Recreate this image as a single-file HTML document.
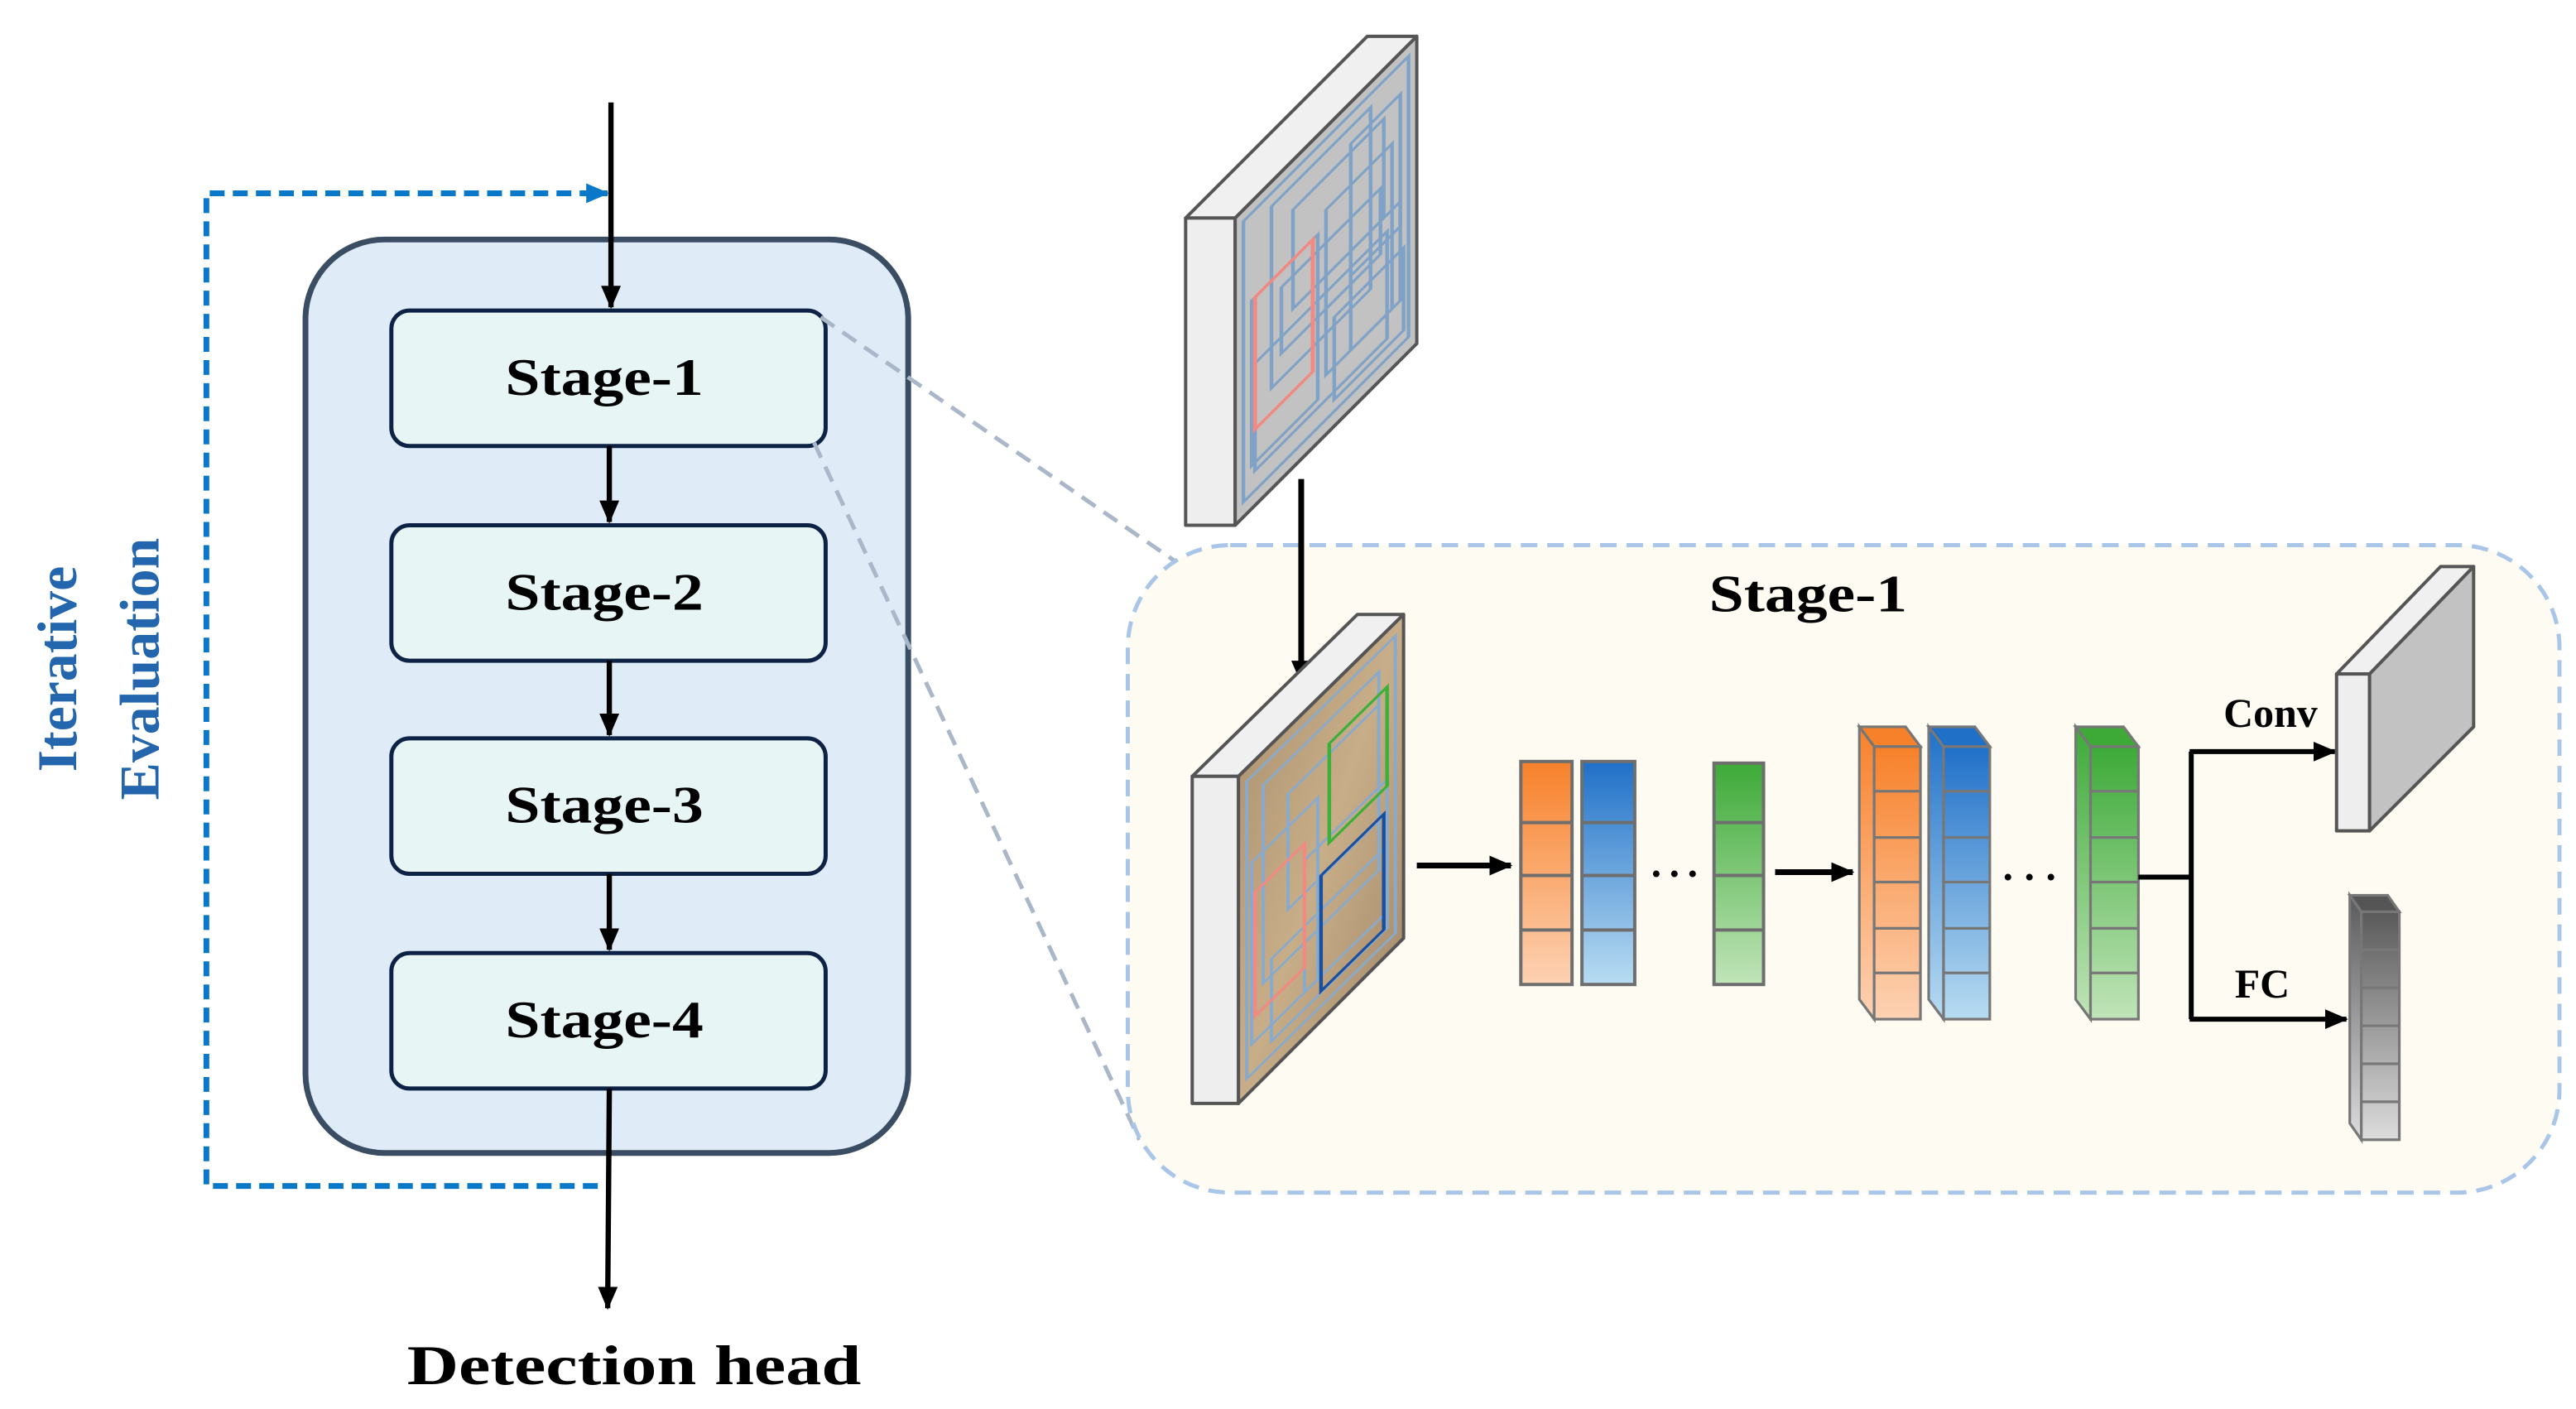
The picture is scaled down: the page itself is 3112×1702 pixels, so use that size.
<!DOCTYPE html>
<html><head><meta charset="utf-8"><style>
html,body{margin:0;padding:0;background:#fff;width:3112px;height:1702px;overflow:hidden}
svg{display:block}
text{font-family:"Liberation Serif",serif;font-weight:bold}
</style></head><body>
<svg width="3112" height="1702" viewBox="0 0 1560 853" preserveAspectRatio="none" xmlns="http://www.w3.org/2000/svg">
<defs>
<marker id="ah" markerWidth="14" markerHeight="12" refX="13" refY="6" orient="auto" markerUnits="userSpaceOnUse"><path d="M0,0 L14,6 L0,12 Z" fill="#000"/></marker>
<marker id="ahb" markerWidth="14" markerHeight="12" refX="13" refY="6" orient="auto" markerUnits="userSpaceOnUse"><path d="M0,0 L14,6 L0,12 Z" fill="#0a78c8"/></marker>
<linearGradient id="go" x1="0" y1="0" x2="0" y2="1"><stop offset="0" stop-color="#f7812a"/><stop offset="1" stop-color="#fdd2b4"/></linearGradient>
<linearGradient id="gb" x1="0" y1="0" x2="0" y2="1"><stop offset="0" stop-color="#2070c8"/><stop offset="1" stop-color="#b8dcf2"/></linearGradient>
<linearGradient id="gg" x1="0" y1="0" x2="0" y2="1"><stop offset="0" stop-color="#3daa38"/><stop offset="1" stop-color="#c0e4b8"/></linearGradient>
<linearGradient id="gk" x1="0" y1="0" x2="0" y2="1"><stop offset="0" stop-color="#5a5a5a"/><stop offset="1" stop-color="#dcdcdc"/></linearGradient>
<linearGradient id="tan" x1="0" y1="0" x2="1" y2="1"><stop offset="0" stop-color="#a88c6c"/><stop offset="0.5" stop-color="#c8ae88"/><stop offset="1" stop-color="#9c8264"/></linearGradient>
</defs>

<path d="M360,117 L125,117 L125,718 L370,718" fill="none" stroke="#0a78c8" stroke-width="3.5" stroke-dasharray="9,5"/>
<line x1="355" y1="117" x2="368" y2="117" stroke="#0a78c8" stroke-width="3.5" marker-end="url(#ahb)"/>
<text transform="translate(46,405) rotate(-90)" font-size="34" fill="#2466ad" text-anchor="middle">Iterative</text>
<text transform="translate(96,405) rotate(-90)" font-size="34" fill="#2466ad" text-anchor="middle">Evaluation</text>

<rect x="185" y="145" width="365" height="553" rx="48" fill="#dfecf8" stroke="#3b4d62" stroke-width="3.5"/>
<g stroke="#0d2245" stroke-width="2.5" fill="#e8f5f5">
<rect x="237" y="188" width="263" height="82" rx="11"/>
<rect x="237" y="318" width="263" height="82" rx="11"/>
<rect x="237" y="447" width="263" height="82" rx="11"/>
<rect x="237" y="577" width="263" height="82" rx="11"/>
</g>
<g font-size="32" text-anchor="middle" fill="#000">
<text x="366" y="239" textLength="120" lengthAdjust="spacingAndGlyphs">Stage-1</text>
<text x="366" y="369" textLength="120" lengthAdjust="spacingAndGlyphs">Stage-2</text>
<text x="366" y="498" textLength="120" lengthAdjust="spacingAndGlyphs">Stage-3</text>
<text x="366" y="628" textLength="120" lengthAdjust="spacingAndGlyphs">Stage-4</text>
</g>
<g stroke="#000" stroke-width="3.2" marker-end="url(#ah)">
<line x1="370" y1="62" x2="370" y2="186"/>
<line x1="369" y1="270" x2="369" y2="316"/>
<line x1="369" y1="400" x2="369" y2="445"/>
<line x1="369" y1="529" x2="369" y2="575"/>
<line x1="369" y1="659" x2="368" y2="792"/>
</g>
<text x="384" y="838" font-size="34" text-anchor="middle" textLength="275" lengthAdjust="spacingAndGlyphs">Detection head</text>

<g stroke="#a9b7c8" stroke-width="2.5" stroke-dasharray="10,6" fill="none">
<line x1="497" y1="192" x2="712" y2="340"/>
<line x1="493" y1="268" x2="690" y2="690"/>
</g>

<rect x="683" y="330" width="867" height="392" rx="62" fill="#fdfbf2" stroke="#a9c5e8" stroke-width="2.5" stroke-dasharray="10,6"/>
<text x="1095" y="370" font-size="32" text-anchor="middle" textLength="120" lengthAdjust="spacingAndGlyphs">Stage-1</text>

<g stroke="#555" stroke-width="2" stroke-linejoin="round">
<path d="M718,132 L828,22 L858,22 L748,132 Z" fill="#f0f0f0"/>
<rect x="718" y="132" width="30" height="186" fill="#eeeeee"/>
<path d="M748,132 L858,22 L858,208 L748,318 Z" fill="#c2c2c2"/>
</g>
<g transform="translate(748,132) skewY(-45)" fill="none" stroke="#7fa2c6" stroke-width="2.2">
<rect x="5" y="7" width="100" height="170"/>
<rect x="22" y="15" width="60" height="110"/>
<rect x="35" y="30" width="55" height="60"/>
<rect x="55" y="50" width="40" height="100"/>
<rect x="70" y="25" width="30" height="80"/>
<rect x="10" y="60" width="40" height="100"/>
<rect x="28" y="70" width="60" height="40"/>
<rect x="60" y="120" width="42" height="50"/>
<rect x="12" y="100" width="80" height="65"/>
<rect x="70" y="90" width="30" height="60"/>
</g>
<g transform="translate(748,132) skewY(-45)" fill="none" stroke="#f08a82" stroke-width="2.5">
<rect x="12" y="60" width="35" height="80"/>
</g>
<line x1="788" y1="290" x2="788" y2="413" stroke="#000" stroke-width="3.5" marker-end="url(#ah)"/>

<g stroke="#555" stroke-width="2" stroke-linejoin="round">
<path d="M722,470 L822,372 L850,372 L750,470 Z" fill="#f0f0f0"/>
<rect x="722" y="470" width="28" height="198" fill="#eeeeee"/>
<path d="M750,470 L850,372 L850,568 L750,668 Z" fill="url(#tan)"/>
</g>
<g transform="translate(750,470) skewY(-44.4)" fill="none" stroke="#8aaacb" stroke-width="2">
<rect x="5" y="8" width="90" height="180"/>
<rect x="15" y="20" width="70" height="120"/>
<rect x="30" y="40" width="55" height="70"/>
<rect x="8" y="60" width="40" height="110"/>
<rect x="40" y="90" width="50" height="80"/>
<rect x="20" y="130" width="70" height="50"/>
</g>
<g transform="translate(750,470) skewY(-44.4)" fill="none" stroke-width="2.2">
<rect x="55" y="34" width="35" height="60" stroke="#3cb038"/>
<rect x="10" y="80" width="30" height="75" stroke="#f08a82"/>
<rect x="50" y="109" width="38" height="70" stroke="#1a4fa0"/>
</g>

<line x1="858" y1="524" x2="915" y2="524" stroke="#000" stroke-width="3.5" marker-end="url(#ah)"/>

<g stroke="#6e6e6e" stroke-width="2">
<rect x="921" y="461" width="31" height="135" fill="url(#go)"/>
<rect x="958" y="461" width="32" height="135" fill="url(#gb)"/>
<rect x="1038" y="462" width="30" height="134" fill="url(#gg)"/>
<line x1="921" y1="498" x2="952" y2="498"/><line x1="921" y1="530" x2="952" y2="530"/><line x1="921" y1="563" x2="952" y2="563"/>
<line x1="958" y1="498" x2="990" y2="498"/><line x1="958" y1="530" x2="990" y2="530"/><line x1="958" y1="563" x2="990" y2="563"/>
<line x1="1038" y1="498" x2="1068" y2="498"/><line x1="1038" y1="530" x2="1068" y2="530"/><line x1="1038" y1="563" x2="1068" y2="563"/>
</g>
<g fill="#000"><circle cx="1003" cy="529" r="2"/><circle cx="1014" cy="529" r="2"/><circle cx="1025" cy="529" r="2"/>
<circle cx="1216" cy="531" r="2"/><circle cx="1229" cy="531" r="2"/><circle cx="1242" cy="531" r="2"/></g>
<line x1="1075" y1="528" x2="1122" y2="528" stroke="#000" stroke-width="3.5" marker-end="url(#ah)"/>

<g stroke="#777" stroke-width="1.6">
<path d="M1126,440 L1154,440 L1163,452 L1135,452 Z" fill="#f7812a"/>
<path d="M1126,440 L1135,452 L1135,617 L1126,605 Z" fill="url(#go)"/>
<rect x="1135" y="452" width="28" height="165" fill="url(#go)"/>
<path d="M1168,440 L1196,440 L1205,452 L1177,452 Z" fill="#2070c8"/>
<path d="M1168,440 L1177,452 L1177,617 L1168,605 Z" fill="url(#gb)"/>
<rect x="1177" y="452" width="28" height="165" fill="url(#gb)"/>
<path d="M1257,440 L1286,440 L1295,452 L1266,452 Z" fill="#3daa38"/>
<path d="M1257,440 L1266,452 L1266,617 L1257,605 Z" fill="url(#gg)"/>
<rect x="1266" y="452" width="29" height="165" fill="url(#gg)"/>
<g>
<line x1="1135" y1="479" x2="1163" y2="479"/><line x1="1135" y1="507" x2="1163" y2="507"/><line x1="1135" y1="534" x2="1163" y2="534"/><line x1="1135" y1="562" x2="1163" y2="562"/><line x1="1135" y1="589" x2="1163" y2="589"/>
<line x1="1177" y1="479" x2="1205" y2="479"/><line x1="1177" y1="507" x2="1205" y2="507"/><line x1="1177" y1="534" x2="1205" y2="534"/><line x1="1177" y1="562" x2="1205" y2="562"/><line x1="1177" y1="589" x2="1205" y2="589"/>
<line x1="1266" y1="479" x2="1295" y2="479"/><line x1="1266" y1="507" x2="1295" y2="507"/><line x1="1266" y1="534" x2="1295" y2="534"/><line x1="1266" y1="562" x2="1295" y2="562"/><line x1="1266" y1="589" x2="1295" y2="589"/>
</g>
</g>

<g stroke="#000" stroke-width="3" fill="none">
<line x1="1295" y1="531" x2="1328" y2="531"/>
<line x1="1327" y1="455" x2="1327" y2="617"/>
<line x1="1326" y1="455" x2="1414" y2="455" marker-end="url(#ah)"/>
<line x1="1326" y1="617" x2="1421" y2="617" marker-end="url(#ah)"/>
</g>
<text x="1375" y="440" font-size="25" text-anchor="middle">Conv</text>
<text x="1370" y="604" font-size="25" text-anchor="middle">FC</text>

<g stroke="#555" stroke-width="2" stroke-linejoin="round">
<path d="M1415,408 L1478,343 L1498,343 L1435,408 Z" fill="#f0f0f0"/>
<rect x="1415" y="408" width="20" height="95" fill="#eeeeee"/>
<path d="M1435,408 L1498,343 L1498,440 L1435,503 Z" fill="#c2c2c2"/>
</g>
<g stroke="#777" stroke-width="1.6">
<path d="M1423,542 L1446,542 L1453,552 L1430,552 Z" fill="#555"/>
<path d="M1423,542 L1430,552 L1430,690 L1423,680 Z" fill="url(#gk)"/>
<rect x="1430" y="552" width="23" height="138" fill="url(#gk)"/>
<line x1="1430" y1="575" x2="1453" y2="575"/><line x1="1430" y1="598" x2="1453" y2="598"/><line x1="1430" y1="621" x2="1453" y2="621"/><line x1="1430" y1="644" x2="1453" y2="644"/><line x1="1430" y1="667" x2="1453" y2="667"/>
</g>
</svg>
</body></html>
